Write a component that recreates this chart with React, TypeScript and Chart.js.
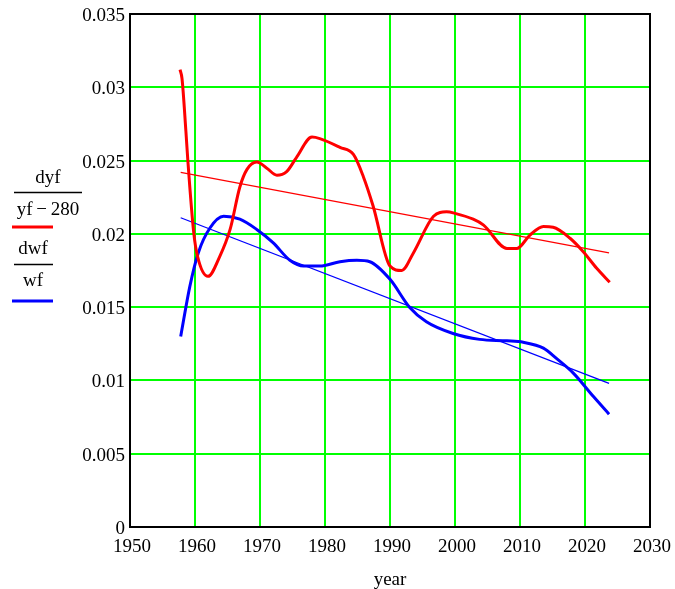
import React, { useEffect, useRef } from "react";
import { Chart, registerables } from "chart.js";

Chart.register(...registerables);

const redYears = [1957.7, 1958.0, 1958.6, 1958.9, 1959.8, 1960.4, 1962.0, 1963.8, 1965.4, 1966.9, 1968.0, 1969.5, 1971.0, 1972.6, 1974.1, 1975.6, 1978.0, 1979.2, 1982.3, 1984.4, 1985.9, 1987.4, 1990.0, 1991.8, 1993.6, 1996.7, 1998.7, 2000.0, 2002.8, 2004.4, 2008.0, 2009.5, 2011.5, 2013.6, 2015.1, 2017.7, 2019.7, 2021.8, 2023.8];
const redValues = [0.0312, 0.0306, 0.0270, 0.0250, 0.0201, 0.01845, 0.0171, 0.01845, 0.0203, 0.0232, 0.0244, 0.0249, 0.0245, 0.0240, 0.02425, 0.0252, 0.0266, 0.0265, 0.0259, 0.0254, 0.0239, 0.0219, 0.0178, 0.0175, 0.0187, 0.0212, 0.0215, 0.0214, 0.0210, 0.0206, 0.0190, 0.0190, 0.0199, 0.0205, 0.02045, 0.0197, 0.0188, 0.01765, 0.0167];

const blueYears = [1957.8, 1959.2, 1960.5, 1962.3, 1964.4, 1966.9, 1969.5, 1972.0, 1974.6, 1976.7, 1979.2, 1982.3, 1984.9, 1986.9, 1990.0, 1993.0, 1995.6, 1999.7, 2003.8, 2008.0, 2010.5, 2013.6, 2015.6, 2018.2, 2021.3, 2023.7];
const blueValues = [0.0130, 0.0164, 0.0187, 0.0204, 0.0212, 0.0210, 0.0203, 0.0194, 0.0182, 0.0178, 0.0178, 0.0181, 0.0182, 0.0181, 0.0169, 0.0150, 0.0140, 0.0132, 0.0128, 0.0127, 0.0126, 0.0122, 0.0115, 0.0105, 0.0089, 0.0077];

const trendYears = [1957.8, 2023.7];
const redTrend = [0.0242, 0.0187];
const blueTrend = [0.0211, 0.0098];

const xTicks = [1950, 1960, 1970, 1980, 1990, 2000, 2010, 2020, 2030];
const yTicks = [0, 0.005, 0.01, 0.015, 0.02, 0.025, 0.03, 0.035];

const FONT = '"Liberation Serif", "Times New Roman", serif';

const pts = (xs: number[], ys: number[]) => xs.map((x, i) => ({ x, y: ys[i] }));

const framePlugin = {
  id: "frameAndLegend",
  afterDraw(chart: any) {
    const { ctx, chartArea } = chart;
    ctx.save();
    ctx.strokeStyle = "#000";
    ctx.lineWidth = 2;
    ctx.strokeRect(chartArea.left, chartArea.top, chartArea.right - chartArea.left, chartArea.bottom - chartArea.top);

    ctx.fillStyle = "#000";
    ctx.font = `19px ${FONT}`;
    ctx.textAlign = "center";
    ctx.textBaseline = "middle";
    ctx.fillText("dyf", 48, 178);
    ctx.fillText("yf\u2009\u2212\u2009280", 48, 210);
    ctx.fillText("dwf", 33, 249);
    ctx.fillText("wf", 33, 281);

    ctx.lineWidth = 1.3;
    ctx.strokeStyle = "#000";
    ctx.beginPath();
    ctx.moveTo(14, 192.5);
    ctx.lineTo(82, 192.5);
    ctx.moveTo(14, 264.5);
    ctx.lineTo(53, 264.5);
    ctx.stroke();

    ctx.lineWidth = 3;
    ctx.strokeStyle = "#ff0000";
    ctx.beginPath();
    ctx.moveTo(12, 227);
    ctx.lineTo(53, 227);
    ctx.stroke();
    ctx.strokeStyle = "#0000ff";
    ctx.beginPath();
    ctx.moveTo(12, 301);
    ctx.lineTo(53, 301);
    ctx.stroke();
    ctx.restore();
  },
};

export default function App() {
  const ref = useRef<HTMLCanvasElement | null>(null);

  useEffect(() => {
    if (!ref.current) return;
    const chart = new Chart(ref.current, {
      type: "line",
      data: {
        datasets: [
          {
            data: pts(redYears, redValues),
            borderColor: "#ff0000",
            borderWidth: 3,
            pointRadius: 0,
            cubicInterpolationMode: "monotone",
            fill: false,
          },
          {
            data: pts(trendYears, redTrend),
            borderColor: "#ff0000",
            borderWidth: 1.3,
            pointRadius: 0,
            fill: false,
          },
          {
            data: pts(blueYears, blueValues),
            borderColor: "#0000ff",
            borderWidth: 3,
            pointRadius: 0,
            cubicInterpolationMode: "monotone",
            fill: false,
          },
          {
            data: pts(trendYears, blueTrend),
            borderColor: "#0000ff",
            borderWidth: 1.3,
            pointRadius: 0,
            fill: false,
          },
        ],
      },
      options: {
        responsive: false,
        animation: false,
        layout: { padding: { left: 0, top: 14, right: 25, bottom: 0 } },
        plugins: { legend: { display: false }, tooltip: { enabled: false } },
        scales: {
          x: {
            type: "linear",
            min: 1950,
            max: 2030,
            afterFit: (s: any) => {
              s.height = 62;
              s.paddingLeft = 0;
              s.paddingRight = 0;
            },
            afterBuildTicks: (s: any) => { s.ticks = xTicks.map((v) => ({ value: v })); },
            ticks: {
              color: "#000",
              font: { family: FONT, size: 19 },
              padding: 9,
              labelOffset: 2,
              maxRotation: 0,
              callback: (v: any) => String(v),
            },
            grid: { color: "#00ff00", lineWidth: 2, drawTicks: false },
            border: { display: false },
            title: {
              display: true,
              text: "year",
              color: "#000",
              font: { family: FONT, size: 19 },
              padding: { top: 0, bottom: -2 },
            },
          },
          y: {
            type: "linear",
            min: 0,
            max: 0.035,
            afterFit: (s: any) => {
              s.width = 130;
              s.paddingTop = 0;
              s.paddingBottom = 0;
            },
            afterBuildTicks: (s: any) => { s.ticks = yTicks.map((v) => ({ value: v })); },
            ticks: {
              color: "#000",
              font: { family: FONT, size: 19 },
              padding: 5,
              labelOffset: 2,
              callback: (v: any) => String(Number(Number(v).toFixed(3))),
            },
            grid: { color: "#00ff00", lineWidth: 2, drawTicks: false },
            border: { display: false },
          },
        },
      },
      plugins: [framePlugin],
    } as any);
    return () => chart.destroy();
  }, []);

  return (
    <div style={{ position: "fixed", left: 0, top: 0, width: 675, height: 589, background: "#fff" }}>
      <canvas ref={ref} width={675} height={589} style={{ display: "block" }} />
    </div>
  );
}
